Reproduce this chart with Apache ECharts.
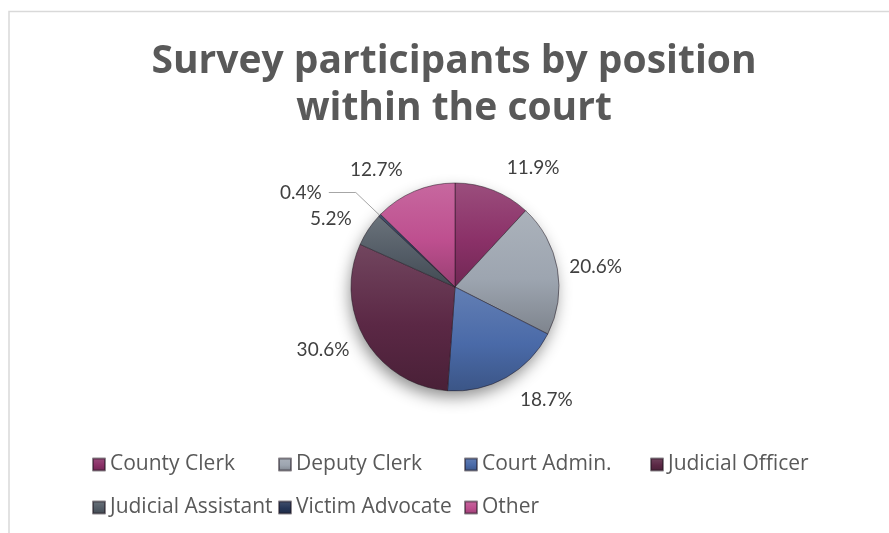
<!DOCTYPE html>
<html>
<head>
<meta charset="utf-8">
<script src="https://cdn.jsdelivr.net/npm/echarts@6/dist/echarts.min.js"></script>
<style>
  html, body { margin: 0; padding: 0; background: #ffffff; }
  #chart { width: 889px; height: 533px; }
</style>
</head>
<body>
<div id="chart"></div>
<script>
// Survey participants by position within the court (percent of respondents)
const positions = ['County Clerk', 'Deputy Clerk', 'Court Admin.', 'Judicial Officer',
                   'Judicial Assistant', 'Victim Advocate', 'Other'];
const shares = [11.9, 20.6, 18.7, 30.6, 5.2, 0.4, 12.7];
const sliceColors = ['#8B3168', '#9DA5B0', '#4A6AA8', '#5B2845', '#535C66', '#263657', '#BE4F8F'];

// Per-slice label leader geometry: [length, length2, gap to text, show line]
const labelLeaders = [
  [24, 5, 0, false],
  [8, 4, 0, false],
  [26, 1, 0, false],
  [19, 0, 0, false],
  [20, 0, 0, false],
  [33, 27, 7, true],
  [23, 3, 0, false]
];

function shade(hex, amt) {
  const n = parseInt(hex.slice(1), 16);
  let r = (n >> 16) & 255, g = (n >> 8) & 255, b = n & 255;
  const f = c => Math.max(0, Math.min(255, Math.round(amt >= 0 ? c + (255 - c) * amt : c * (1 + amt))));
  return 'rgb(' + f(r) + ',' + f(g) + ',' + f(b) + ')';
}

function sliceFill(hex) {
  return new echarts.graphic.LinearGradient(0, 0, 0, 1, [
    { offset: 0, color: shade(hex, 0.14) },
    { offset: 0.55, color: hex },
    { offset: 1, color: shade(hex, -0.2) }
  ]);
}

const total = shares.reduce((a, b) => a + b, 0);
const pieCenter = [455, 287];
const pieRadius = 104;

const chart = echarts.init(document.getElementById('chart'));

chart.setOption({
  backgroundColor: '#ffffff',
  animation: false,
  graphic: [{
    type: 'rect',
    silent: true,
    shape: { x: 9, y: 11.5, width: 1000, height: 1000 },
    style: { fill: 'none', stroke: '#D9D9D9', lineWidth: 1.5 }
  }],
  title: {
    text: 'Survey participants by position\nwithin the court',
    left: 454,
    top: 38,
    padding: 0,
    textAlign: 'center',
    textStyle: {
      fontFamily: 'Open Sans',
      fontWeight: 'bold',
      fontSize: 39,
      lineHeight: 47,
      color: '#595959'
    }
  },
  legend: {
    data: positions,
    left: 92,
    top: 443,
    width: 745,
    padding: 0,
    icon: 'rect',
    itemWidth: 12,
    itemHeight: 12,
    itemGap: 0,
    textStyle: {
      fontFamily: 'Open Sans',
      fontSize: 21,
      color: '#595959',
      width: 168,
      overflow: 'none',
      lineHeight: 43
    }
  },
  series: [
    {
      // soft drop shadow beneath the pie
      type: 'pie',
      name: 'shadow',
      silent: true,
      center: pieCenter,
      radius: pieRadius - 1,
      label: { show: false },
      labelLine: { show: false },
      itemStyle: {
        color: '#ffffff',
        shadowBlur: 16,
        shadowOffsetY: 7,
        shadowOffsetX: -2,
        shadowColor: 'rgba(0,0,0,0.45)'
      },
      data: [{ name: 'all', value: total }]
    },
    {
      type: 'pie',
      name: 'Position',
      center: pieCenter,
      radius: pieRadius,
      startAngle: 90,
      clockwise: true,
      avoidLabelOverlap: false,
      itemStyle: {
        borderColor: 'rgba(30,20,30,0.5)',
        borderWidth: 1
      },
      label: {
        show: true,
        position: 'outside',
        formatter: p => p.value.toFixed(1) + '%',
        fontFamily: 'Lato',
        fontSize: 19,
        color: '#404040'
      },
      labelLine: {
        show: false,
        lineStyle: { color: '#A6A6A6', width: 1 }
      },
      data: positions.map((name, i) => ({
        name: name,
        value: shares[i],
        itemStyle: { color: sliceFill(sliceColors[i]) },
        label: { distanceToLabelLine: labelLeaders[i][2] },
        labelLine: {
          show: labelLeaders[i][3],
          length: labelLeaders[i][0],
          length2: labelLeaders[i][1]
        }
      }))
    }
  ]
});
</script>
</body>
</html>
